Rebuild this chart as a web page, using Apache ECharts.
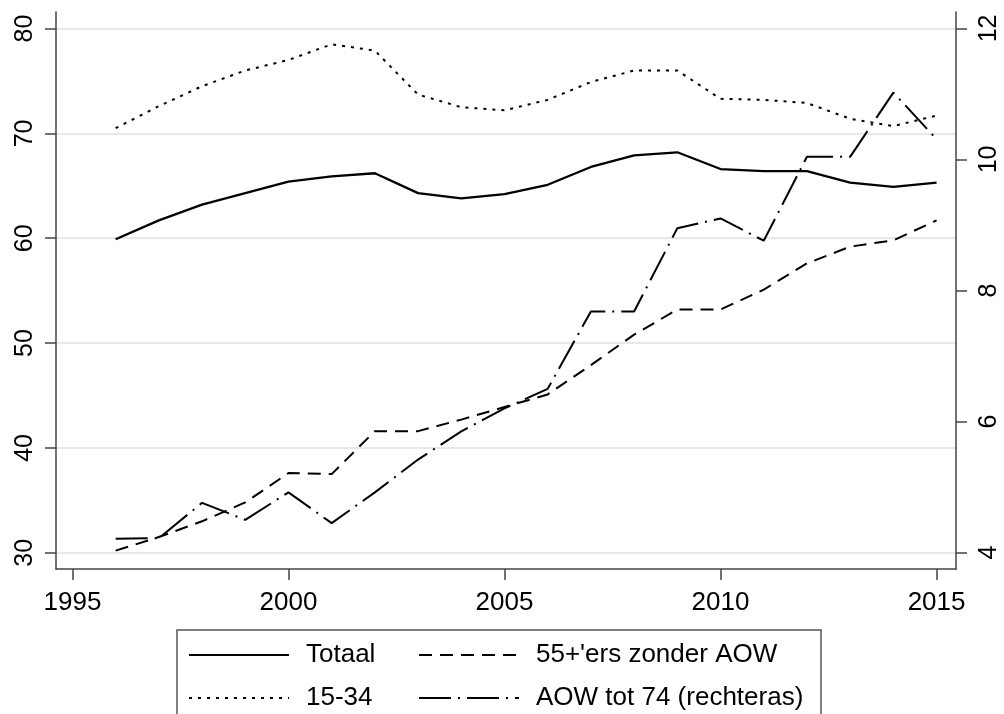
<!DOCTYPE html>
<html>
<head>
<meta charset="utf-8">
<script src="https://cdn.jsdelivr.net/npm/echarts@6/dist/echarts.min.js"></script>
<style>
  html, body { margin: 0; padding: 0; background: #fff; }
  #chart { width: 1004px; height: 714px; }
</style>
</head>
<body>
<div id="chart"></div>
<script>
// jaren en reeksen (links: procent, rechts: AOW tot 74)
const years = [1996, 1997, 1998, 1999, 2000, 2001, 2002, 2003, 2004, 2005,
               2006, 2007, 2008, 2009, 2010, 2011, 2012, 2013, 2014, 2015]
const totaal = [59.9, 61.7, 63.2, 64.3, 65.4, 65.9, 66.2, 64.3, 63.8, 64.2,
                65.1, 66.8, 67.9, 68.2, 66.6, 66.4, 66.4, 65.3, 64.9, 65.3]
const jong = [70.5, 72.6, 74.5, 76.0, 77.0, 78.5, 77.9, 73.7, 72.5, 72.2,
              73.2, 74.9, 76.0, 76.0, 73.3, 73.2, 72.9, 71.4, 70.7, 71.7]
const ouder = [30.2, 31.5, 33.0, 34.8, 37.6, 37.5, 41.6, 41.6, 42.7, 43.9,
               45.1, 47.9, 50.8, 53.2, 53.2, 55.1, 57.6, 59.2, 59.8, 61.7]
const aow = [4.21, 4.22, 4.76, 4.50, 4.92, 4.45, 4.92, 5.42, 5.85, 6.20,
             6.50, 7.68, 7.68, 8.95, 9.10, 8.76, 10.04, 10.04, 11.02, 10.31]

const xTicks = [1995, 2000, 2005, 2010, 2015]
const leftTicks = [30, 40, 50, 60, 70, 80]
const rightTicks = [4, 6, 8, 10, 12]

const names = ['Totaal', "55+'ers zonder AOW", '15-34', 'AOW tot 74 (rechteras)']

const font = 'Arial, "Liberation Sans", sans-serif'
const axisColor = '#444'

function pairs(vals) {
  return years.map((y, i) => [y, vals[i]])
}

function lineSeries(name, vals, dash, yIndex, width) {
  return {
    name: name,
    type: 'line',
    yAxisIndex: yIndex,
    data: pairs(vals),
    showSymbol: false,
    symbol: 'none',
    silent: true,
    itemStyle: { color: '#000' },
    lineStyle: { color: '#000', width: width || 2, type: dash, cap: 'butt' }
  }
}

const chart = echarts.init(document.getElementById('chart'))

chart.setOption({
  animation: false,
  backgroundColor: '#fff',
  textStyle: { fontFamily: font },
  grid: { left: 56, right: 48, top: 12, bottom: 145, outerBoundsMode: 'none' },
  legend: {
    left: 177,
    top: 630,
    width: 632,
    padding: [12, 5, 16, 11],
    borderColor: '#555',
    borderWidth: 1.5,
    itemWidth: 100,
    itemHeight: 14,
    itemGap: 17,
    selectedMode: false,
    itemStyle: { opacity: 0 },
    textStyle: { fontSize: 26, color: '#000', lineHeight: 21, fontFamily: font },
    data: [
      { name: names[0], textStyle: { width: 95, padding: [0, 0, 0, 12] } },
      { name: names[1], textStyle: { width: 280, padding: [0, 0, 0, 12] } },
      { name: names[2], textStyle: { width: 95, padding: [0, 0, 0, 12] } },
      { name: names[3], textStyle: { width: 280, padding: [0, 0, 0, 12] } }
    ]
  },
  xAxis: {
    type: 'value',
    min: 1994.62,
    max: 2015.45,
    axisLine: { show: true, onZero: false, lineStyle: { color: axisColor, width: 1.5 } },
    axisTick: { show: true, length: 11, lineStyle: { color: axisColor, width: 1.5 }, customValues: xTicks },
    axisLabel: { fontSize: 26, color: '#000', margin: 21, customValues: xTicks, formatter: v => String(v) },
    splitLine: { show: false }
  },
  yAxis: [
    {
      type: 'value',
      position: 'left',
      min: 28.45,
      max: 81.58,
      axisLine: { show: true, onZero: false, lineStyle: { color: axisColor, width: 1.5 } },
      axisTick: { show: true, length: 11, lineStyle: { color: axisColor, width: 1.5 }, customValues: leftTicks },
      axisLabel: { fontSize: 25, color: '#000', rotate: 90, margin: 18, customValues: leftTicks },
      splitLine: { show: true, lineStyle: { color: '#e8e8e8', width: 2 } }
    },
    {
      type: 'value',
      position: 'right',
      min: 3.75,
      max: 12.25,
      axisLine: { show: true, onZero: false, lineStyle: { color: axisColor, width: 1.5 } },
      axisTick: { show: true, length: 11, lineStyle: { color: axisColor, width: 1.5 }, customValues: rightTicks },
      axisLabel: { fontSize: 25, color: '#000', rotate: 90, margin: 21, customValues: rightTicks },
      splitLine: { show: false }
    }
  ],
  series: [
    lineSeries(names[0], totaal, 'solid', 0, 2.3),
    lineSeries(names[1], ouder, [13, 8], 0),
    lineSeries(names[2], jong, [3, 6], 0),
    lineSeries(names[3], aow, [32, 7, 2, 7], 1)
  ]
})
</script>
</body>
</html>
